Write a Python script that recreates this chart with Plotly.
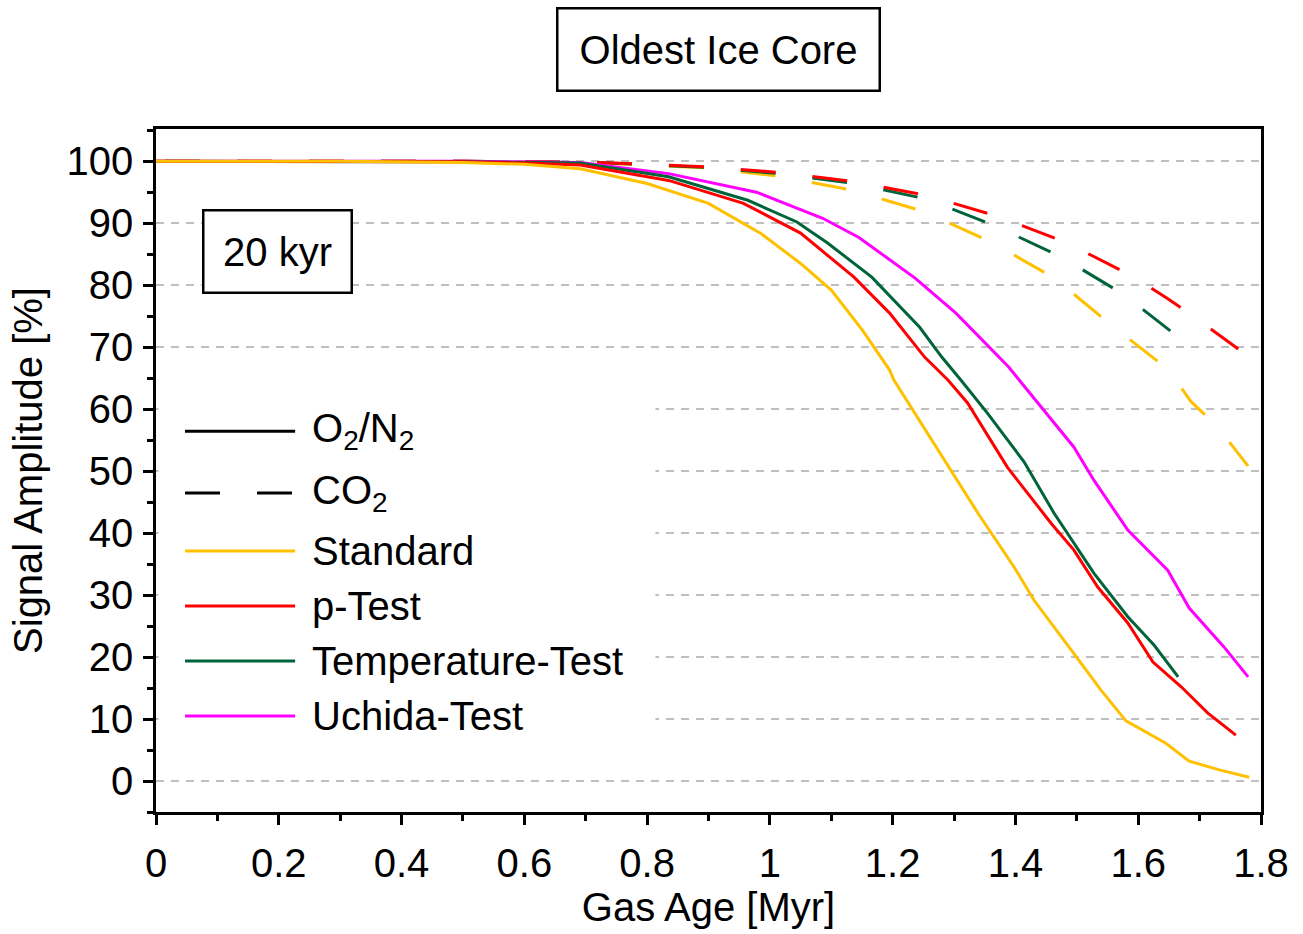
import plotly.graph_objects as go

# ---------------- data ----------------
# O2/N2 (solid)
std_x = [0, 0.3, 0.5, 0.6, 0.691, 0.8, 0.9, 0.986, 1.05, 1.10, 1.151, 1.195, 1.202, 1.295, 1.339, 1.398, 1.43, 1.495, 1.539, 1.58, 1.645, 1.683, 1.732, 1.781]
std_y = [100, 100, 99.8, 99.5, 98.8, 96.4, 93.2, 88.3, 83.5, 79.2, 72.7, 66.3, 64.7, 50.2, 43.2, 34.5, 29.2, 20.6, 14.7, 9.7, 6.1, 3.2, 1.8, 0.6]

p_x = [0, 0.5, 0.6, 0.691, 0.835, 0.957, 1.05, 1.137, 1.195, 1.252, 1.29, 1.322, 1.387, 1.458, 1.495, 1.534, 1.583, 1.624, 1.67, 1.713, 1.759]
p_y = [100, 99.9, 99.7, 99.4, 96.9, 93.2, 88.4, 81.3, 75.5, 68.4, 64.7, 61.0, 50.6, 41.6, 37.3, 31.3, 25.5, 19.2, 15.2, 11.0, 7.4]

t_x = [0, 0.5, 0.691, 0.835, 0.964, 1.044, 1.094, 1.166, 1.244, 1.28, 1.311, 1.354, 1.414, 1.463, 1.528, 1.583, 1.626, 1.665]
t_y = [100, 99.9, 99.7, 97.5, 93.7, 90.2, 86.8, 81.3, 73.2, 68.4, 64.7, 59.4, 51.5, 43.2, 33.5, 26.5, 21.9, 16.8]

u_x = [0, 0.5, 0.691, 0.835, 0.978, 1.086, 1.145, 1.237, 1.303, 1.389, 1.406, 1.447, 1.495, 1.528, 1.583, 1.648, 1.683, 1.74, 1.779]
u_y = [100, 100, 99.8, 98.0, 95.0, 90.8, 87.7, 81.1, 75.5, 66.8, 64.7, 59.8, 53.9, 48.5, 40.5, 34.0, 27.9, 21.6, 16.8]

# CO2 (dashed)
std_co2_x = [0, 0.5, 0.72, 0.9, 1.014, 1.135, 1.25, 1.36, 1.464, 1.557, 1.65, 1.686, 1.727, 1.779]
std_co2_y = [100, 100, 99.7, 98.9, 97.6, 95.3, 91.9, 87.0, 81.1, 73.5, 66.3, 61.2, 57.4, 50.8]

p_co2_x = [0, 0.5, 0.72, 0.9, 1.014, 1.137, 1.255, 1.371, 1.482, 1.59, 1.647, 1.691, 1.763]
p_co2_y = [100, 100, 99.8, 99.1, 98.2, 96.7, 94.5, 91.1, 86.9, 81.5, 77.9, 74.9, 69.7]

t_co2_x = [0, 0.5, 0.72, 0.9, 1.014, 1.137, 1.255, 1.366, 1.474, 1.578, 1.668]
t_co2_y = [100, 100, 99.8, 99.0, 98.0, 96.4, 93.9, 89.6, 84.6, 78.4, 71.4]

legend_labels = ["O<sub>2</sub>/N<sub>2</sub>", "CO<sub>2</sub>", "Standard", "p-Test", "Temperature-Test", "Uchida-Test"]
x_ticks = [0, 0.2, 0.4, 0.6, 0.8, 1, 1.2, 1.4, 1.6, 1.8]
y_ticks = [0, 10, 20, 30, 40, 50, 60, 70, 80, 90, 100]

# ---------------- style ----------------
YEL = "#FFC000"
RED = "#FF0000"
GRN = "#00643A"
MAG = "#FF00FF"
FONT = "Liberation Sans, Arial, sans-serif"
FS = 40
LW = 3
DASH = "0px,9px,35px,28px"

fig = go.Figure()

# dashed CO2
fig.add_trace(go.Scatter(x=std_co2_x, y=std_co2_y, mode="lines", name="Standard CO2",
                         line=dict(color=YEL, width=LW, dash=DASH), showlegend=False))
fig.add_trace(go.Scatter(x=t_co2_x, y=t_co2_y, mode="lines", name="Temperature-Test CO2",
                         line=dict(color=GRN, width=LW, dash=DASH), showlegend=False))
fig.add_trace(go.Scatter(x=p_co2_x, y=p_co2_y, mode="lines", name="p-Test CO2",
                         line=dict(color=RED, width=LW, dash=DASH), showlegend=False))
# solid O2/N2
fig.add_trace(go.Scatter(x=u_x, y=u_y, mode="lines", name="Uchida-Test",
                         line=dict(color=MAG, width=LW), showlegend=False))
fig.add_trace(go.Scatter(x=t_x, y=t_y, mode="lines", name="Temperature-Test",
                         line=dict(color=GRN, width=LW), showlegend=False))
fig.add_trace(go.Scatter(x=p_x, y=p_y, mode="lines", name="p-Test",
                         line=dict(color=RED, width=LW), showlegend=False))
fig.add_trace(go.Scatter(x=std_x, y=std_y, mode="lines", name="Standard",
                         line=dict(color=YEL, width=LW), showlegend=False))

# ---------------- manual legend ----------------
# white background hiding grid lines behind the legend
fig.add_shape(type="rect", xref="x", yref="y", x0=0.004, x1=0.8136, y0=3, y1=66,
              fillcolor="white", line=dict(width=0), layer="between")

leg_colors = ["black", "black", YEL, RED, GRN, MAG]
leg_dash = ["solid", "35px,37px", "solid", "solid", "solid", "solid"]
leg_py = [431, 493, 551, 606, 661, 716]
for lab, col, dsh, py in zip(legend_labels, leg_colors, leg_dash, leg_py):
    yv = (781 - py) / 6.2
    fig.add_shape(type="line", xref="x", yref="y", x0=(185 - 156) / 613.3, x1=(295 - 156) / 613.3,
                  y0=yv, y1=yv, line=dict(color=col, width=LW, dash=dsh), layer="above")
    fig.add_annotation(x=(310 - 156) / 613.3, y=yv, xref="x", yref="y", text=lab,
                       showarrow=False, xanchor="left", yanchor="middle",
                       font=dict(family=FONT, size=FS, color="black"))

# ---------------- text boxes ----------------
fig.add_annotation(x=(718 - 156) / 1105, y=(812 - 50) / 683, xref="paper", yref="paper",
                   text="Oldest Ice Core", showarrow=False, xanchor="center", yanchor="middle",
                   font=dict(family=FONT, size=FS, color="black"),
                   bordercolor="black", borderwidth=2.5, borderpad=2, bgcolor="white",
                   width=316, height=76)
fig.add_annotation(x=(277 - 156) / 613.3, y=(781 - 251) / 6.2, xref="x", yref="y",
                   text="20 kyr", showarrow=False, xanchor="center", yanchor="middle",
                   font=dict(family=FONT, size=FS, color="black"),
                   bordercolor="black", borderwidth=2.5, borderpad=2, bgcolor="white",
                   width=142, height=76)

fig.update_layout(
    width=1303, height=934,
    margin=dict(l=156, r=42, t=129, b=122),
    paper_bgcolor="white", plot_bgcolor="white",
    font=dict(family=FONT, size=FS, color="black"),
    showlegend=False,
)
fig.update_xaxes(
    range=[0, 1.8], tickmode="array", tickvals=x_ticks,
    ticks="outside", ticklen=10, tickwidth=2.5, tickcolor="black",
    minor=dict(dtick=0.1, tick0=0, ticks="outside", ticklen=6, tickwidth=2.5, tickcolor="black", showgrid=False),
    showline=True, linecolor="black", linewidth=2.5, mirror=True,
    showgrid=False, zeroline=False,
    tickfont=dict(family=FONT, size=FS, color="black"), ticklabelstandoff=4,
    title=dict(text="Gas Age [Myr]", font=dict(family=FONT, size=FS, color="black"), standoff=4),
)
fig.update_yaxes(
    range=[-5, 105.2], tickmode="array", tickvals=y_ticks,
    ticks="outside", ticklen=10, tickwidth=2.5, tickcolor="black",
    minor=dict(dtick=5, tick0=0, ticks="outside", ticklen=6, tickwidth=2.5, tickcolor="black", showgrid=False),
    showline=True, linecolor="black", linewidth=2.5, mirror=True,
    showgrid=True, gridcolor="#BFBFBF", gridwidth=2, griddash="8px,7px",
    zeroline=False,
    tickfont=dict(family=FONT, size=FS, color="black"), ticklabelstandoff=2,
    title=dict(text="Signal Amplitude [%]", font=dict(family=FONT, size=FS, color="black"), standoff=12),
)

fig.write_html("out.html", config={"displayModeBar": False},
               post_script="document.body.style.margin='0';")
